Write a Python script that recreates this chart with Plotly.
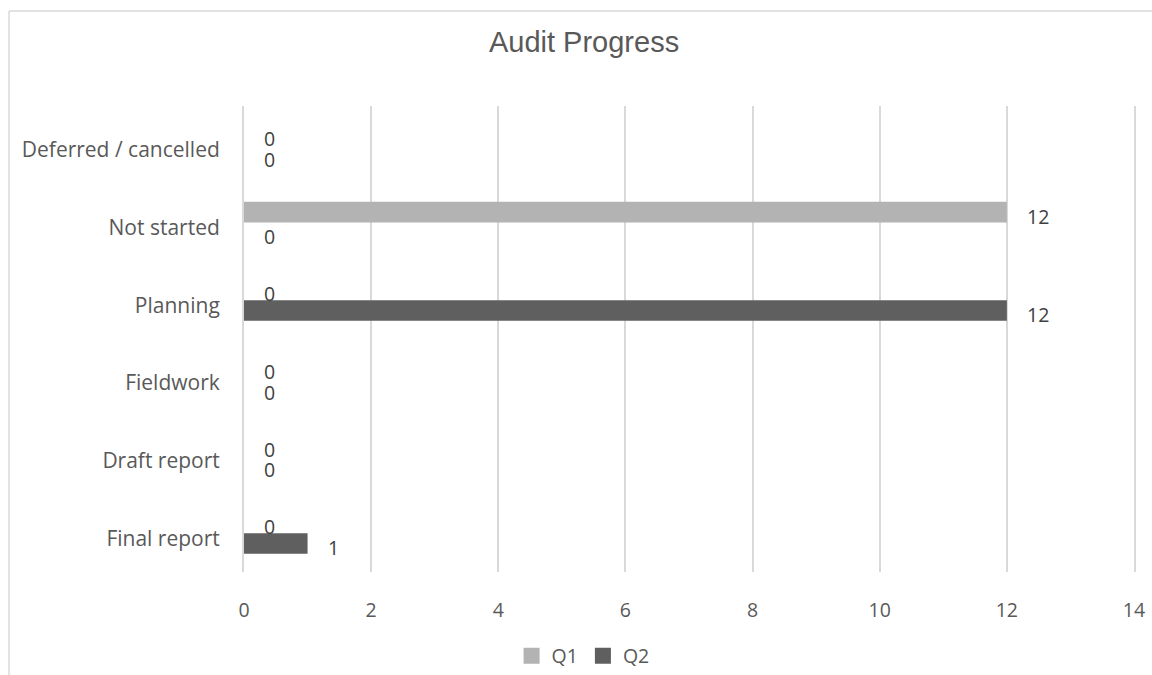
import plotly.graph_objects as go

# Audit status categories, listed top to bottom
categories = ["Deferred / cancelled", "Not started", "Planning", "Fieldwork", "Draft report", "Final report"]
series_names = ["Q1", "Q2"]
q1_values = [0, 12, 0, 0, 0, 0]
q2_values = [0, 0, 12, 0, 0, 1]
x_ticks = [0, 2, 4, 6, 8, 10, 12, 14]

colors = {"Q1": "#b3b3b3", "Q2": "#5f5f5f"}
grid_color = "#d9d9d9"
cat_font = dict(family="Open Sans", size=21, color="#595959")
num_font = dict(family="Open Sans", size=19.5, color="#595959")
label_font = dict(family="Open Sans", size=19.5, color="#404040")

BARGAP = 0.467
half_bar = (1 - BARGAP) / 4  # centre offset of each bar within its category

fig = go.Figure()
for name, vals in zip(series_names, [q1_values, q2_values]):
    fig.add_trace(go.Bar(
        y=categories, x=vals, name=name, orientation="h",
        marker=dict(color=colors[name], line=dict(width=0)),
        showlegend=False, hoverinfo="x+y",
    ))
    # legend swatch
    fig.add_trace(go.Scatter(
        x=[None], y=[None], mode="markers", name=name,
        marker=dict(symbol="square", size=16, color=colors[name], line=dict(width=0)),
        showlegend=True,
    ))

# data labels to the right of each bar end
annotations = []
for k, vals in enumerate([q1_values, q2_values]):
    sign = -1 if k == 0 else 1
    for j, v in enumerate(vals):
        annotations.append(dict(
            x=v, y=j + sign * half_bar, xref="x", yref="y",
            text=str(v), showarrow=False, xanchor="left", yanchor="middle",
            xshift=18, yshift=-4, font=label_font,
        ))

fig.update_layout(
    width=1152, height=675,
    margin=dict(l=244, r=18, t=106, b=103, autoexpand=False),
    paper_bgcolor="white", plot_bgcolor="white",
    barmode="group", bargap=BARGAP, bargroupgap=0,
    title=dict(text="Audit Progress", x=0.507, xref="container", y=1 - 42 / 675,
               yref="container", xanchor="center", yanchor="middle",
               font=dict(family="Arial, Liberation Sans", size=29, color="#595959")),
    xaxis=dict(range=[0, 14], tickvals=x_ticks, showgrid=True, gridcolor=grid_color,
               gridwidth=2, zeroline=False, showline=False, ticks="",
               tickfont=num_font, ticklabelstandoff=24, fixedrange=True),
    # the vertical axis line and its mirror give the gridlines at 0 and 14
    yaxis=dict(categoryorder="array", categoryarray=categories, autorange="reversed",
               showgrid=False, zeroline=False, showline=True, mirror=True,
               linecolor=grid_color, linewidth=2, ticks="",
               tickfont=cat_font, ticklabelstandoff=18, ticklabelshift=-5,
               fixedrange=True),
    legend=dict(orientation="h", x=(583 - 244) / 889.8, xanchor="center",
                y=(572 - 656) / 466, yanchor="middle", font=num_font,
                itemwidth=30, tracegroupgap=0),
    annotations=annotations,
    shapes=[
        dict(type="line", xref="paper", yref="paper", x0=-0.264, x1=-0.264,
             y0=-0.25, y1=1.204, line=dict(color=grid_color, width=1.5)),
        dict(type="line", xref="paper", yref="paper", x0=-0.264, x1=1.05,
             y0=1.204, y1=1.204, line=dict(color=grid_color, width=1.5)),
    ],
)

fig.write_html("out.html")
